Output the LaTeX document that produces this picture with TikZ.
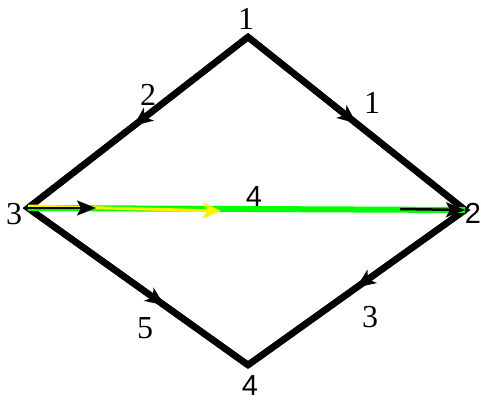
\documentclass[tikz,border=0pt]{standalone}
\usepackage{fontspec}
\newfontfamily\seriff{Liberation Serif}
\newfontfamily\sansf{Liberation Sans}
\usetikzlibrary{arrows.meta,decorations.markings}
\tikzset{
  edge/.style={line width=6.5pt, black},
  midarrow/.style={postaction={decorate},
    decoration={markings, mark=at position #1 with {\arrow{Stealth[length=19pt,width=16pt,inset=5pt]}}}},
  lbl/.style={inner sep=0pt, font=\seriff\fontsize{32}{32}\selectfont},
  slbl/.style={inner sep=0pt, font=\sansf\fontsize{29}{29}\selectfont},
}
\begin{document}
\begin{tikzpicture}[x=1pt,y=-1pt]
\useasboundingbox (0,0) rectangle (481,410);
\coordinate (v1) at (248,37);
\coordinate (v2) at (465,210);
\coordinate (v3) at (28,208);
\coordinate (v4) at (248,365);
\coordinate (y1) at (221,211);
\coordinate (b1) at (96,208);
\coordinate (b2) at (400,209);
% outline
\draw[edge, line join=miter] (v1) -- (v2) -- (v4) -- (v3) -- cycle;
\draw[edge, midarrow=0.52] (v1) -- (v3);
\draw[edge, midarrow=0.5] (v1) -- (v2);
\draw[edge, midarrow=0.62] (v3) -- (v4);
\draw[edge, midarrow=0.5] (v2) -- (v4);
% horizontal
\draw[line width=6pt, green] (v3) -- (v2);
\draw[line width=3pt, yellow, -{Stealth[length=18pt,width=16pt,inset=4pt]}] ([yshift=2pt]v3) -- (y1);
\draw[line width=2.5pt, black, -{Stealth[length=19pt,width=15pt,inset=4pt]}] (v3) -- (b1);
\draw[line width=2.5pt, black, -{Stealth[length=19pt,width=15pt,inset=4pt]}] (b2) -- (v2);
% labels
\node[lbl] (l1) at (246,19) {1};
\node[lbl] (l2) at (148,95) {2};
\node[lbl] (l3) at (372,103) {1};
\node[lbl] (l4) at (14,214) {3};
\node[slbl] (l5) at (254,197) {4};
\node[slbl] (l6) at (473,213) {2};
\node[lbl] (l7) at (145,328) {5};
\node[lbl] (l8) at (370,317) {3};
\node[slbl] (l9) at (250,386) {4};
\end{tikzpicture}
\end{document}
